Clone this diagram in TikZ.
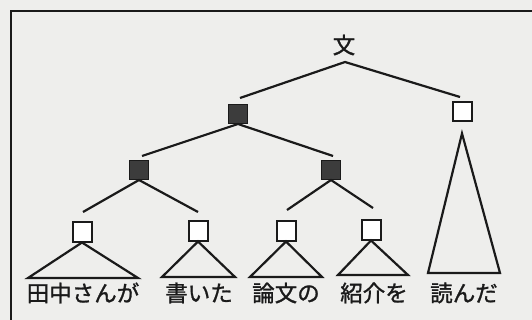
\documentclass[tikz,border=0pt]{standalone}
\usepackage{fontspec}
\newfontfamily\jp[FakeBold=1.2]{Noto Sans CJK JP}
\definecolor{paper}{HTML}{EEEEEC}
\definecolor{ink}{HTML}{1A1A1A}
\begin{document}
\begin{tikzpicture}[x=1pt,y=-1pt,
  edge/.style={draw=ink,line width=2.2pt},
  fsq/.style={draw=ink,fill=ink!85,line width=1pt,minimum size=19pt,inner sep=0pt},
  osq/.style={draw=ink,fill=white,line width=2pt,minimum size=19pt,inner sep=0pt},
  word/.style={font=\jp\fontsize{22.5}{22.5}\selectfont,text=ink,inner sep=0pt,anchor=center},
  tri/.style={draw=ink,line width=2.2pt,line join=miter}]
\fill[paper] (0,0) rectangle (532,320);
\useasboundingbox (0,0) rectangle (532,320);
\draw[ink,line width=1.8pt] (11,320) -- (11,11) -- (532,11);
% nodes
\node[word] (root) at (344,45) {文};
\node[fsq] (A) at (238,114) {};
\node[osq] (R) at (462,112) {};
\node[fsq] (B) at (139,170) {};
\node[fsq] (C) at (331,170) {};
\node[osq] (D1) at (82,232) {};
\node[osq] (D2) at (198,231) {};
\node[osq] (D3) at (286,231) {};
\node[osq] (D4) at (371,230) {};
% coordinates for edge ends
\coordinate (rt) at (345,62);
\coordinate (rl) at (240,98);
\coordinate (rr) at (460,97);
\coordinate (al) at (142,156);
\coordinate (ar) at (333,156);
\coordinate (bl) at (83,212);
\coordinate (br) at (198,212);
\coordinate (cl) at (287,210);
\coordinate (cr) at (373,208);
% edges
\draw[edge] (rl) -- (rt) -- (rr);
\draw[edge] (al) -- (A.south) -- (ar);
\draw[edge] (bl) -- (B.south) -- (br);
\draw[edge] (cl) -- (C.south) -- (cr);
% triangles
\draw[tri] (D1.south) -- (28,278) -- (138,278) -- cycle;
\draw[tri] (D2.south) -- (162,277) -- (235,277) -- cycle;
\draw[tri] (D3.south) -- (250,277) -- (322,277) -- cycle;
\draw[tri] (D4.south) -- (338,275) -- (408,275) -- cycle;
\draw[tri] ([yshift=-11pt]R.south) -- (428,273) -- (500,273) -- cycle;
% words
\node[word] (w1) at (83,293) {田中さんが};
\node[word] (w2) at (199,293) {書いた};
\node[word] (w3) at (286,293) {論文の};
\node[word] (w4) at (374,293) {紹介を};
\node[word] (w5) at (464,293) {読んだ};
\end{tikzpicture}
\end{document}
